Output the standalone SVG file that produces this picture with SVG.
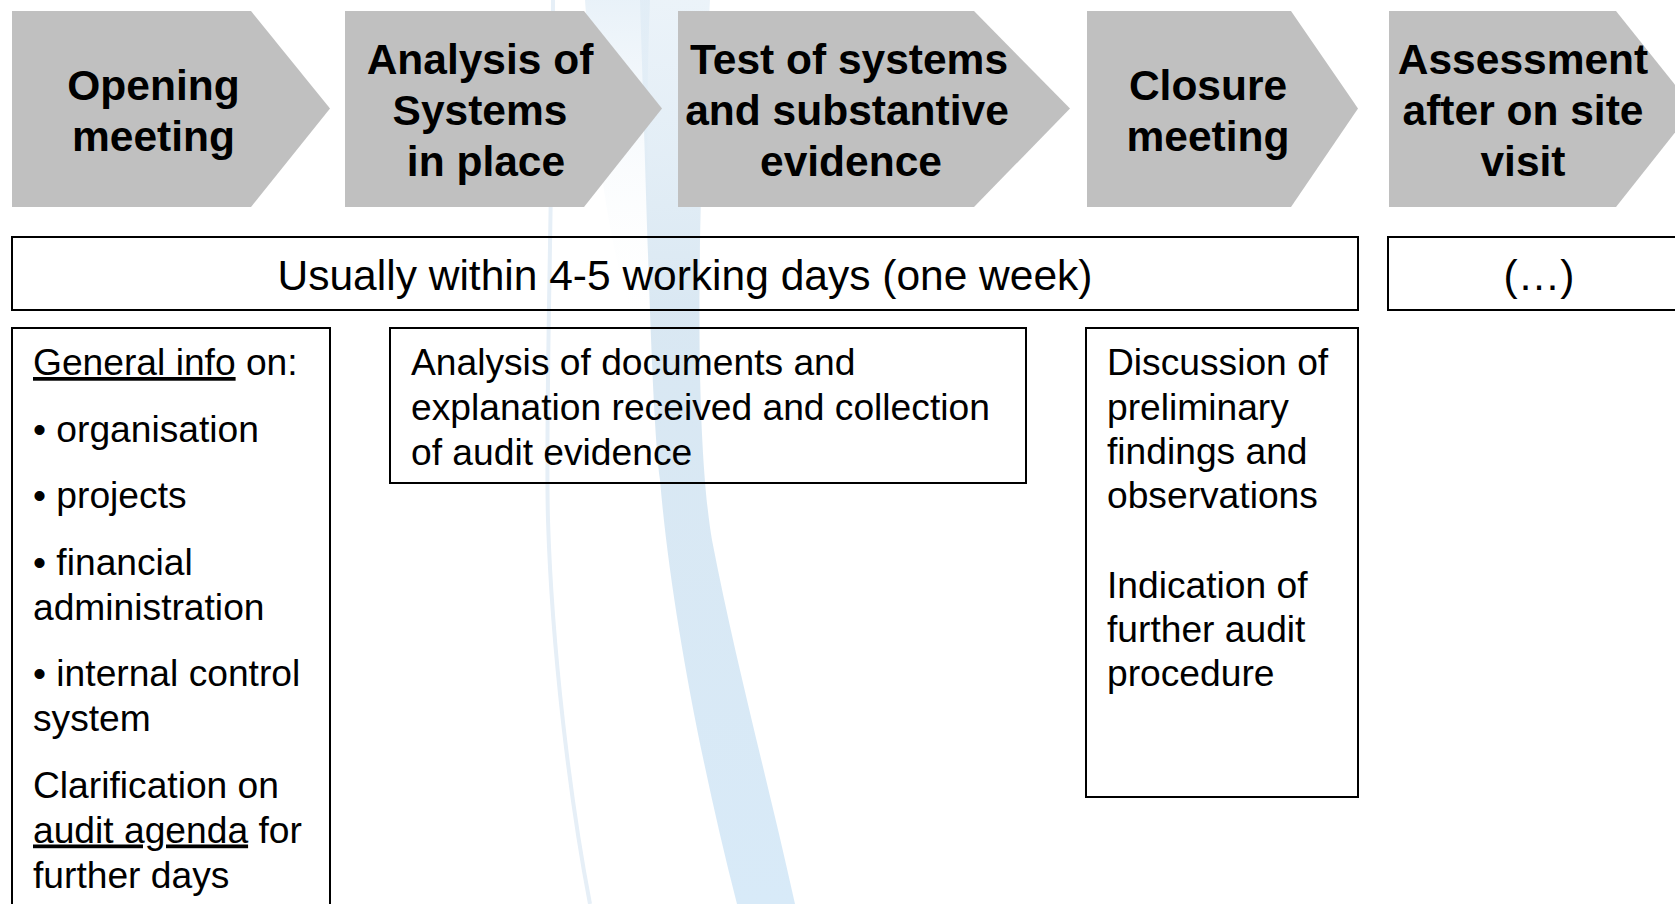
<svg xmlns="http://www.w3.org/2000/svg" width="1675" height="904" viewBox="0 0 1675 904">
  <style>
    .step { fill: #c0c0c0; }
    .step-label { font-family: "Liberation Sans", Arial, sans-serif; font-weight: bold; font-size: 42.5px; fill: #000; text-anchor: middle; }
    .box { fill: none; stroke: #000; stroke-width: 2; }
    .box-label { font-family: "Liberation Sans", Arial, sans-serif; font-size: 42.5px; fill: #000; text-anchor: middle; }
    .body { font-family: "Liberation Sans", Arial, sans-serif; font-size: 37.2px; fill: #000; }
    .ul { text-decoration: underline; }
  </style>
  <defs>
    <linearGradient id="bandFade" x1="0" y1="0" x2="0" y2="1">
      <stop offset="0" stop-color="#dbe9f4" stop-opacity="0.55"/>
      <stop offset="0.35" stop-color="#d5e5f1" stop-opacity="0.9"/>
      <stop offset="1" stop-color="#d8eaf8" stop-opacity="1"/>
    </linearGradient>
    <linearGradient id="glowFade" x1="0" y1="0" x2="0" y2="1">
      <stop offset="0" stop-color="#e3eef7" stop-opacity="0.8"/>
      <stop offset="0.5" stop-color="#eef5fa" stop-opacity="0.3"/>
      <stop offset="1" stop-color="#ffffff" stop-opacity="0"/>
    </linearGradient>
  </defs>

  <rect width="1675" height="904" fill="#fff"/>

  <!-- background swoosh of the slide template -->
  <g id="backdrop">
    <path d="M585 0 C595 150 610 260 640 340 L655 340 C648 250 645 120 650 0 Z" fill="url(#glowFade)"/>
    <path d="M640 0 C648 250 652 420 660 480 C670 600 700 760 737 904 L795 904 C770 790 735 660 712 540 C700 470 692 300 710 0 Z" fill="url(#bandFade)"/>
    <path d="M553 0 C552 220 545 420 548 520 C552 650 570 800 590 904" fill="none" stroke="#e6eff7" stroke-width="4"/>
  </g>

  <!-- process steps -->
  <g id="step-opening">
    <polygon class="step" points="12,11 251,11 330,108.5 251,207 12,207"/>
    <text class="step-label" x="153.5" y="99.5">Opening</text>
    <text class="step-label" x="153.5" y="150.5">meeting</text>
  </g>
  <g id="step-analysis">
    <polygon class="step" points="345,11 584,11 662,108.5 584,207 345,207"/>
    <text class="step-label" x="480" y="73.5">Analysis of</text>
    <text class="step-label" x="480" y="124.5">Systems</text>
    <text class="step-label" x="486" y="175.5">in place</text>
  </g>
  <g id="step-test">
    <polygon class="step" points="678,11 974,11 1070,108.5 974,207 678,207"/>
    <text class="step-label" x="849" y="73.5">Test of systems</text>
    <text class="step-label" x="847" y="124.5">and substantive</text>
    <text class="step-label" x="851" y="175.5">evidence</text>
  </g>
  <g id="step-closure">
    <polygon class="step" points="1087,11 1291,11 1358,108.5 1291,207 1087,207"/>
    <text class="step-label" x="1208" y="99.5">Closure</text>
    <text class="step-label" x="1208" y="150.5">meeting</text>
  </g>
  <g id="step-assessment">
    <polygon class="step" points="1389,11 1616,11 1694,108.5 1616,207 1389,207"/>
    <text class="step-label" x="1523" y="73.5">Assessment</text>
    <text class="step-label" x="1523" y="124.5">after on site</text>
    <text class="step-label" x="1523" y="175.5">visit</text>
  </g>

  <!-- duration bars -->
  <g id="duration-week">
    <rect class="box" x="12" y="237" width="1346" height="73"/>
    <text class="box-label" x="685" y="290">Usually within 4-5 working days (one week)</text>
  </g>
  <g id="duration-after">
    <rect class="box" x="1388" y="237" width="310" height="73"/>
    <text class="box-label" x="1539" y="290">(…)</text>
  </g>

  <!-- detail boxes -->
  <g id="detail-opening">
    <rect class="box" x="12" y="328" width="318" height="600"/>
    <text class="body" x="33" y="375"><tspan class="ul">General info</tspan> on:</text>
    <text class="body" x="33" y="441.5">• organisation</text>
    <text class="body" x="33" y="508">• projects</text>
    <text class="body" x="33" y="574.5">• financial</text>
    <text class="body" x="33" y="619.5">administration</text>
    <text class="body" x="33" y="686">• internal control</text>
    <text class="body" x="33" y="731">system</text>
    <text class="body" x="33" y="797.5">Clarification on</text>
    <text class="body" x="33" y="842.5"><tspan class="ul">audit agenda</tspan> for</text>
    <text class="body" x="33" y="887.5">further days</text>
  </g>
  <g id="detail-analysis">
    <rect class="box" x="390" y="328" width="636" height="155"/>
    <text class="body" x="411" y="375">Analysis of documents and</text>
    <text class="body" x="411" y="420">explanation received and collection</text>
    <text class="body" x="411" y="465">of audit evidence</text>
  </g>
  <g id="detail-closure">
    <rect class="box" x="1086" y="328" width="272" height="469"/>
    <text class="body" x="1107" y="375">Discussion of</text>
    <text class="body" x="1107" y="419.5">preliminary</text>
    <text class="body" x="1107" y="464">findings and</text>
    <text class="body" x="1107" y="508">observations</text>
    <text class="body" x="1107" y="597.5">Indication of</text>
    <text class="body" x="1107" y="642">further audit</text>
    <text class="body" x="1107" y="686">procedure</text>
  </g>

  <!-- no connectors between the steps: the chevrons carry the flow -->
  <g id="connectors"/>
</svg>
